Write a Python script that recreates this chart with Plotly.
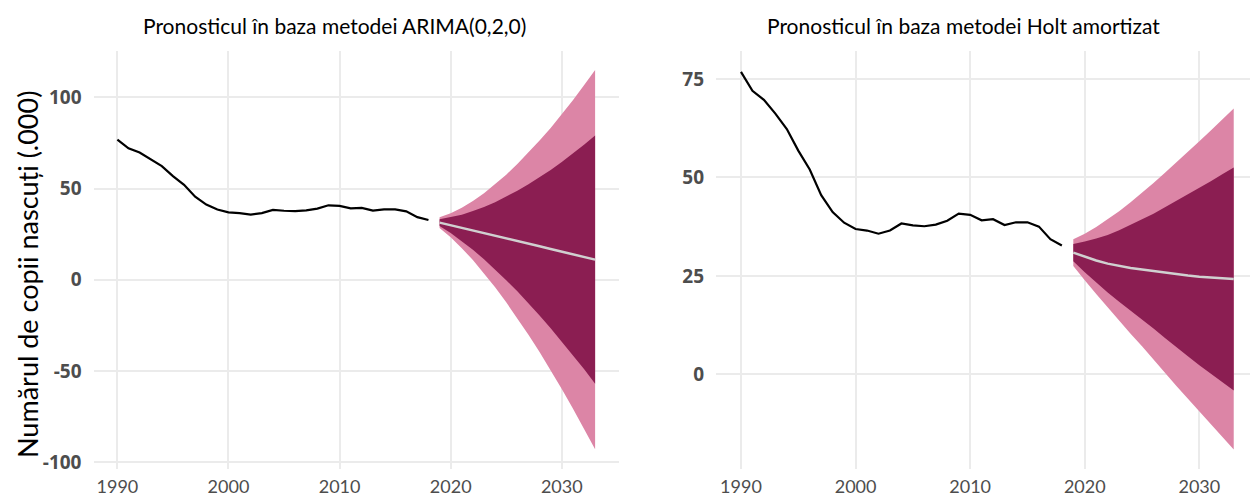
import plotly.graph_objects as go

# Observed births (thousands), 1990-2018
years_obs = list(range(1990, 2019))
births_obs = [76.8, 72.0, 69.7, 66.2, 62.3, 56.8, 52.0, 45.5, 41.2, 38.5,
              36.9, 36.5, 35.7, 36.5, 38.3, 37.8, 37.6, 38.0, 39.0, 40.8,
              40.5, 39.1, 39.4, 37.9, 38.6, 38.6, 37.5, 34.3, 32.7]

# Forecast horizon, 2019-2033
years_fc = list(range(2019, 2034))

# ARIMA(0,2,0) forecast and prediction intervals
arima_mean = [31.3, 29.9, 28.4, 27.0, 25.5, 24.1, 22.6, 21.2, 19.7, 18.3, 16.8, 15.4, 13.9, 12.5, 11.0]
arima_lo80 = [29.4, 25.6, 21.2, 16.4, 11.2, 5.7, -0.3, -6.4, -12.9, -19.6, -26.6, -33.8, -41.4, -49.0, -57.0]
arima_hi80 = [33.2, 34.2, 35.6, 37.6, 39.8, 42.5, 45.5, 48.8, 52.3, 56.2, 60.2, 64.6, 69.2, 74.0, 79.0]
arima_lo95 = [28.3, 23.3, 17.3, 10.8, 3.6, -4.1, -12.4, -21.0, -30.2, -39.7, -49.6, -59.9, -70.6, -81.6, -93.0]
arima_hi95 = [34.3, 36.5, 39.5, 43.2, 47.4, 52.3, 57.6, 63.4, 69.6, 76.3, 83.2, 90.7, 98.4, 106.6, 115.0]

# Damped Holt forecast and prediction intervals
holt_mean = [30.9, 29.8, 28.9, 28.1, 27.5, 27.0, 26.6, 26.2, 25.8, 25.4, 25.1, 24.8, 24.6, 24.4, 24.2]
holt_lo80 = [28.7, 25.9, 23.3, 20.8, 18.4, 16.1, 13.8, 11.6, 9.2, 6.8, 4.6, 2.3, 0.2, -2.0, -4.1]
holt_hi80 = [33.1, 33.7, 34.5, 35.4, 36.6, 37.9, 39.4, 40.8, 42.4, 44.0, 45.6, 47.3, 49.0, 50.8, 52.5]
holt_lo95 = [27.5, 23.9, 20.4, 16.9, 13.6, 10.3, 7.1, 3.8, 0.4, -3.0, -6.3, -9.6, -12.7, -15.9, -19.1]
holt_hi95 = [34.3, 35.7, 37.4, 39.3, 41.4, 43.7, 46.1, 48.6, 51.2, 53.8, 56.5, 59.2, 61.9, 64.7, 67.5]

x_ticks = [1990, 2000, 2010, 2020, 2030]
left_y_ticks = [-100, -50, 0, 50, 100]
right_y_ticks = [0, 25, 50, 75]

titles = ["Pronosticul în baza metodei ARIMA(0,2,0)",
          "Pronosticul în baza metodei Holt amortizat"]
y_title = "Numărul de copii nascuți (.000)"

COL_95 = "#DC85A6"
COL_80 = "#8B1E52"
COL_MEAN = "#D0D0D0"
GRID = "#EBEBEB"
TICK_COL = "#4D4D4D"
FONT = "Lato"

fig = go.Figure()


def add_panel(xa, ya, mean, lo80, hi80, lo95, hi95):
    band_x = years_fc + years_fc[::-1]
    fig.add_trace(go.Scatter(x=band_x, y=hi95 + lo95[::-1], fill="toself",
                             fillcolor=COL_95, line=dict(width=0),
                             mode="lines", xaxis=xa, yaxis=ya, showlegend=False))
    fig.add_trace(go.Scatter(x=band_x, y=hi80 + lo80[::-1], fill="toself",
                             fillcolor=COL_80, line=dict(width=0),
                             mode="lines", xaxis=xa, yaxis=ya, showlegend=False))
    fig.add_trace(go.Scatter(x=years_fc, y=mean, mode="lines",
                             line=dict(color=COL_MEAN, width=2.5),
                             xaxis=xa, yaxis=ya, showlegend=False))
    fig.add_trace(go.Scatter(x=years_obs, y=births_obs, mode="lines",
                             line=dict(color="black", width=2.2),
                             xaxis=xa, yaxis=ya, showlegend=False))


add_panel("x", "y", arima_mean, arima_lo80, arima_hi80, arima_lo95, arima_hi95)
add_panel("x2", "y2", holt_mean, holt_lo80, holt_hi80, holt_lo95, holt_hi95)


def plain_labels(vals):
    # hyphen-minus for negatives, as in the printed labels
    return ["%d" % v for v in vals]


W, H = 1250, 499
y_dom = [(H - 469) / H, (H - 51) / H]

xcommon = dict(tickvals=x_ticks, showgrid=True, gridcolor=GRID, gridwidth=1.6,
               zeroline=False, showline=False, ticks="", ticklabelstandoff=5,
               automargin=False,
               tickfont=dict(family=FONT, size=18, color=TICK_COL))
ycommon = dict(showgrid=True, gridcolor=GRID, gridwidth=1.6, zeroline=False,
               showline=False, ticks="", ticklabelstandoff=11, automargin=False,
               tickfont=dict(family="Open Sans", size=19, color=TICK_COL, weight=700))

fig.update_layout(
    width=W, height=H,
    margin=dict(l=0, r=0, t=0, b=0, autoexpand=False),
    paper_bgcolor="white", plot_bgcolor="white",
    xaxis=dict(domain=[93.5 / W, 619 / W], range=[1987.85, 2035.15], anchor="y", **xcommon),
    yaxis=dict(domain=y_dom, range=[-103.8, 125.4], tickvals=left_y_ticks,
               ticktext=plain_labels(left_y_ticks), anchor="x", **ycommon),
    xaxis2=dict(domain=[716 / W, 1.0], range=[1987.82, 2034.42], anchor="y2", **xcommon),
    yaxis2=dict(domain=y_dom, range=[-24.05, 82.1], tickvals=right_y_ticks,
                ticktext=plain_labels(right_y_ticks), anchor="x2", **ycommon),
    annotations=[
        dict(text=titles[0], x=334 / W, y=(H - 25) / H, xref="paper", yref="paper",
             showarrow=False, xanchor="center", yanchor="middle",
             font=dict(family=FONT, size=21, color="black")),
        dict(text=titles[1], x=963 / W, y=(H - 25) / H, xref="paper", yref="paper",
             showarrow=False, xanchor="center", yanchor="middle",
             font=dict(family=FONT, size=21, color="black")),
        dict(text=y_title, x=27 / W, y=(H - 275) / H, xref="paper", yref="paper",
             showarrow=False, xanchor="center", yanchor="middle", textangle=-90,
             font=dict(family=FONT, size=27, color="black")),
    ],
)

fig.write_html("out.html")
